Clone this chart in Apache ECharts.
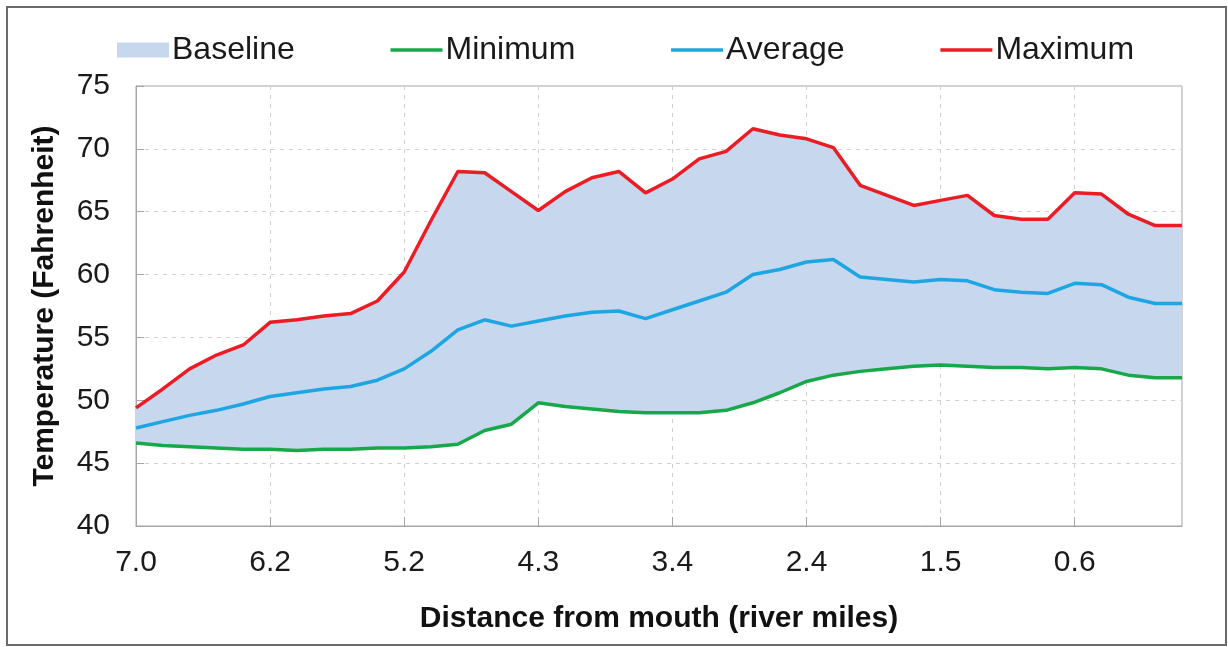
<!DOCTYPE html>
<html>
<head>
<meta charset="utf-8">
<style>
  html, body { margin: 0; padding: 0; background: #fff; }
  #chart { width: 1228px; height: 647px; }
</style>
<script src="https://cdn.jsdelivr.net/npm/echarts@6/dist/echarts.min.js"></script>
</head>
<body>
<div id="chart"></div>
<script>
// River mile of each sampling station, upstream to mouth
const riverMiles = [
  '7.0', '6.8', '6.7', '6.5', '6.4', '6.2', '6.0', '5.8', '5.6', '5.4',
  '5.2', '5.0', '4.8', '4.7', '4.5', '4.3', '4.1', '3.9', '3.8', '3.6',
  '3.4', '3.2', '3.0', '2.8', '2.6', '2.4', '2.2', '2.0', '1.9', '1.7',
  '1.5', '1.3', '1.1', '1.0', '0.8', '0.6', '0.4', '0.3', '0.1', '0.0'
];

// Water temperature (°F) at each station
const minimum = [
  46.6, 46.4, 46.3, 46.2, 46.1, 46.1, 46.0, 46.1, 46.1, 46.2,
  46.2, 46.3, 46.5, 47.6, 48.1, 49.8, 49.5, 49.3, 49.1, 49.0,
  49.0, 49.0, 49.2, 49.8, 50.6, 51.5, 52.0, 52.3, 52.5, 52.7,
  52.8, 52.7, 52.6, 52.6, 52.5, 52.6, 52.5, 52.0, 51.8, 51.8
];
const average = [
  47.8, 48.3, 48.8, 49.2, 49.7, 50.3, 50.6, 50.9, 51.1, 51.6,
  52.5, 53.9, 55.6, 56.4, 55.9, 56.3, 56.7, 57.0, 57.1, 56.5,
  57.2, 57.9, 58.6, 60.0, 60.4, 61.0, 61.2, 59.8, 59.6, 59.4,
  59.6, 59.5, 58.8, 58.6, 58.5, 59.3, 59.2, 58.2, 57.7, 57.7
];
const maximum = [
  49.4, 50.9, 52.5, 53.6, 54.4, 56.2, 56.4, 56.7, 56.9, 57.9,
  60.2, 64.3, 68.2, 68.1, 66.6, 65.1, 66.6, 67.7, 68.2, 66.5,
  67.6, 69.2, 69.8, 71.6, 71.1, 70.8, 70.1, 67.1, 66.3, 65.5,
  65.9, 66.3, 64.7, 64.4, 64.4, 66.5, 66.4, 64.8, 63.9, 63.9
];

// The baseline band spans minimum..maximum; drawn as a stacked area on top of the minimum
const bandHeight = maximum.map((v, i) => +(v - minimum[i]).toFixed(2));

const COLORS = {
  band: '#c6d7ee',
  min: '#18a84a',
  avg: '#1ea6e2',
  max: '#ec1c24'
};

// Legend entries for the lines show only the stroke, no marker
const lineOnly = { itemStyle: { opacity: 0 }, lineStyle: { width: 3.5 } };

const chart = echarts.init(document.getElementById('chart'), null, { renderer: 'canvas' });

chart.setOption({
  backgroundColor: '#ffffff',
  animation: false,
  textStyle: { fontFamily: 'Liberation Sans, Arial, sans-serif' },
  graphic: [{
    type: 'rect',
    shape: { x: 7, y: 7, width: 1219, height: 638 },
    style: { fill: 'none', stroke: '#6a6a6a', lineWidth: 2 },
    silent: true,
    z: 100
  }],
  legend: {
    top: 29,
    left: 112,
    itemWidth: 52,
    itemHeight: 15,
    itemGap: 94,
    textStyle: { fontSize: 32, color: '#1a1a1a', padding: [0, 0, 0, -2] },
    data: [
      { name: 'Baseline', icon: 'rect' },
      Object.assign({ name: 'Minimum' }, lineOnly),
      Object.assign({ name: 'Average' }, lineOnly),
      Object.assign({ name: 'Maximum' }, lineOnly)
    ]
  },
  grid: {
    left: 136,
    right: 46,
    top: 86,
    bottom: 121,
    show: true,
    borderColor: '#a6a6a6',
    borderWidth: 1
  },
  xAxis: {
    type: 'category',
    data: riverMiles,
    boundaryGap: false,
    name: 'Distance from mouth (river miles)',
    nameLocation: 'middle',
    nameGap: 78,
    nameTextStyle: { fontSize: 30, fontWeight: 'bold', color: '#111' },
    axisLine: { lineStyle: { color: '#a6a6a6', width: 1 } },
    axisTick: { inside: true, length: 9, interval: 4, lineStyle: { color: '#a6a6a6' } },
    axisLabel: { interval: 4, fontSize: 30, color: '#1a1a1a', margin: 22 },
    splitLine: {
      show: true,
      interval: 4,
      lineStyle: { color: '#d0d0d0', type: [4, 5], width: 1 }
    }
  },
  yAxis: {
    type: 'value',
    min: 40,
    max: 75,
    interval: 5,
    name: 'Temperature (Fahrenheit)',
    nameLocation: 'middle',
    nameGap: 76,
    nameTextStyle: { fontSize: 30, fontWeight: 'bold', color: '#111' },
    axisLine: { show: true, lineStyle: { color: '#a6a6a6', width: 1 } },
    axisTick: { show: true, inside: true, length: 8, lineStyle: { color: '#a6a6a6' } },
    axisLabel: { fontSize: 30, color: '#1a1a1a', margin: 26 },
    splitLine: {
      show: true,
      lineStyle: { color: '#d0d0d0', type: [4, 5], width: 1 }
    }
  },
  series: [
    {
      name: 'bandFloor',
      type: 'line',
      stack: 'band',
      data: minimum,
      symbol: 'none',
      silent: true,
      lineStyle: { width: 0, opacity: 0 },
      z: 1
    },
    {
      name: 'Baseline',
      type: 'line',
      stack: 'band',
      data: bandHeight,
      symbol: 'none',
      silent: true,
      itemStyle: { color: COLORS.band },
      lineStyle: { width: 0, opacity: 0 },
      areaStyle: { color: COLORS.band, opacity: 1 },
      z: 1
    },
    {
      name: 'Minimum',
      type: 'line',
      data: minimum,
      symbol: 'none',
      itemStyle: { color: COLORS.min },
      lineStyle: { color: COLORS.min, width: 3.5 },
      z: 3
    },
    {
      name: 'Average',
      type: 'line',
      data: average,
      symbol: 'none',
      itemStyle: { color: COLORS.avg },
      lineStyle: { color: COLORS.avg, width: 3.5 },
      z: 3
    },
    {
      name: 'Maximum',
      type: 'line',
      data: maximum,
      symbol: 'none',
      itemStyle: { color: COLORS.max },
      lineStyle: { color: COLORS.max, width: 3.5 },
      z: 3
    }
  ]
});
</script>
</body>
</html>
